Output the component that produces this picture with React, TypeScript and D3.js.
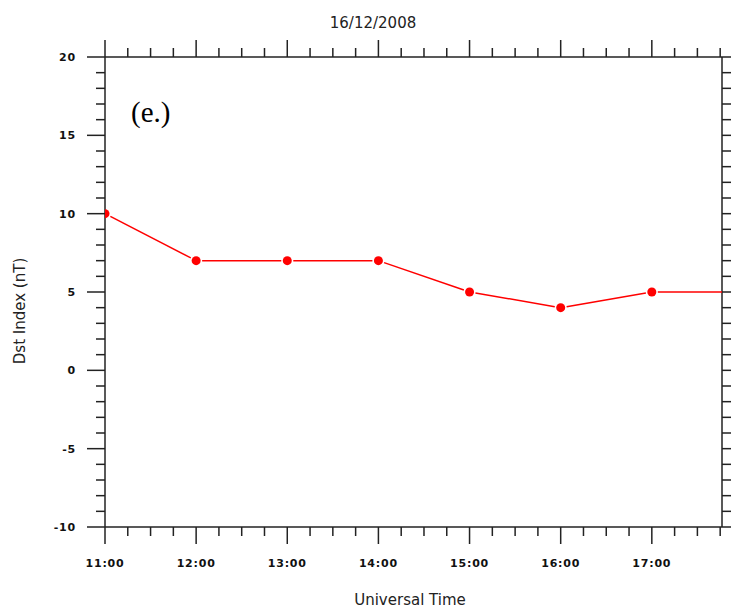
import React from "react";
import * as d3 from "d3";

const hours = [11, 12, 13, 14, 15, 16, 17, 18];
const dst = [10, 7, 7, 7, 5, 4, 5, 5];
const xTickLabels = ["11:00", "12:00", "13:00", "14:00", "15:00", "16:00", "17:00"];
const yTickValues = [-10, -5, 0, 5, 10, 15, 20];

export default function App() {
  const W = 731, H = 614;
  const L = 105, R = 722, T = 57, B = 527;
  const x = d3.scaleLinear().domain([11, 17.77]).range([L, R]);
  const y = d3.scaleLinear().domain([-10, 20]).range([B, T]);

  const minorX = d3.range(11, 17.77, 0.25);
  const majorX = d3.range(11, 17.77, 1);
  const minorY = d3.range(-10, 20.01, 1);

  const pts = hours.map((h, i) => [x(h), y(dst[i])] as [number, number]);
  const gap = 6;
  const segs = pts.slice(0, -1).map((p, i) => {
    const q = pts[i + 1];
    const dx = q[0] - p[0], dy = q[1] - p[1];
    const len = Math.hypot(dx, dy);
    const ux = dx / len, uy = dy / len;
    return [p[0] + ux * gap, p[1] + uy * gap, q[0] - ux * gap, q[1] - uy * gap];
  });

  const axisColor = "#222";
  const tickFont = { fontFamily: "DejaVu Sans", fontWeight: 700, fontSize: 11, letterSpacing: 0.8 } as const;

  return (
    <svg width={W} height={H} style={{ position: "absolute", left: 0, top: 0, background: "#fff" }}>
      <defs>
        <clipPath id="plot">
          <rect x={L} y={T} width={R - L} height={B - T} />
        </clipPath>
      </defs>
      <text x={373} y={28} textAnchor="middle" fontFamily="DejaVu Sans" fontSize={15} fill="#222">16/12/2008</text>

      <line x1={L} y1={T} x2={R} y2={T} stroke={axisColor} strokeWidth={1.5} />
      <line x1={L} y1={B} x2={R} y2={B} stroke={axisColor} strokeWidth={1.5} />
      <line x1={L} y1={T} x2={L} y2={B} stroke={axisColor} strokeWidth={1.5} />
      <line x1={R} y1={T} x2={R} y2={B} stroke={axisColor} strokeWidth={1.5} />

      {minorX.map((v, i) => {
        const major = Math.abs(v - Math.round(v)) < 1e-6;
        const len = major ? 17 : 9;
        return (
          <g key={"xt" + i}>
            <line x1={x(v)} x2={x(v)} y1={T} y2={T - len} stroke={axisColor} strokeWidth={1.5} />
            <line x1={x(v)} x2={x(v)} y1={B} y2={B + len} stroke={axisColor} strokeWidth={1.5} />
          </g>
        );
      })}
      {majorX.map((v, i) => (
        <text key={"xl" + i} x={x(v)} y={567} textAnchor="middle" {...tickFont} fill="#111">{xTickLabels[i]}</text>
      ))}

      {minorY.map((v, i) => {
        const major = v % 5 === 0;
        const len = major ? 18 : 9;
        return (
          <g key={"yt" + i}>
            <line x1={L} x2={L - len} y1={y(v)} y2={y(v)} stroke={axisColor} strokeWidth={1.5} />
            <line x1={R} x2={R + len} y1={y(v)} y2={y(v)} stroke={axisColor} strokeWidth={1.5} />
          </g>
        );
      })}
      {yTickValues.map((v, i) => (
        <text key={"yl" + i} x={76} y={y(v) + 4} textAnchor="end" {...tickFont} fill="#111">{v}</text>
      ))}

      <text x={131} y={122} fontFamily="Liberation Serif" fontSize={29} fill="#000">(e.)</text>

      <text transform={`translate(25,${311}) rotate(-90)`} textAnchor="middle" fontFamily="DejaVu Sans" fontSize={15} fill="#222">Dst Index (nT)</text>
      <text x={410} y={605} textAnchor="middle" fontFamily="DejaVu Sans" fontSize={15} fill="#222">Universal Time</text>

      <g clipPath="url(#plot)">
        {segs.map((s, i) => (
          <line key={"s" + i} x1={s[0]} y1={s[1]} x2={s[2]} y2={s[3]} stroke="#f00" strokeWidth={1.5} />
        ))}
        {pts.map((p, i) => (
          <circle key={"p" + i} cx={p[0]} cy={p[1]} r={4.5} fill="#f00" />
        ))}
      </g>
    </svg>
  );
}
